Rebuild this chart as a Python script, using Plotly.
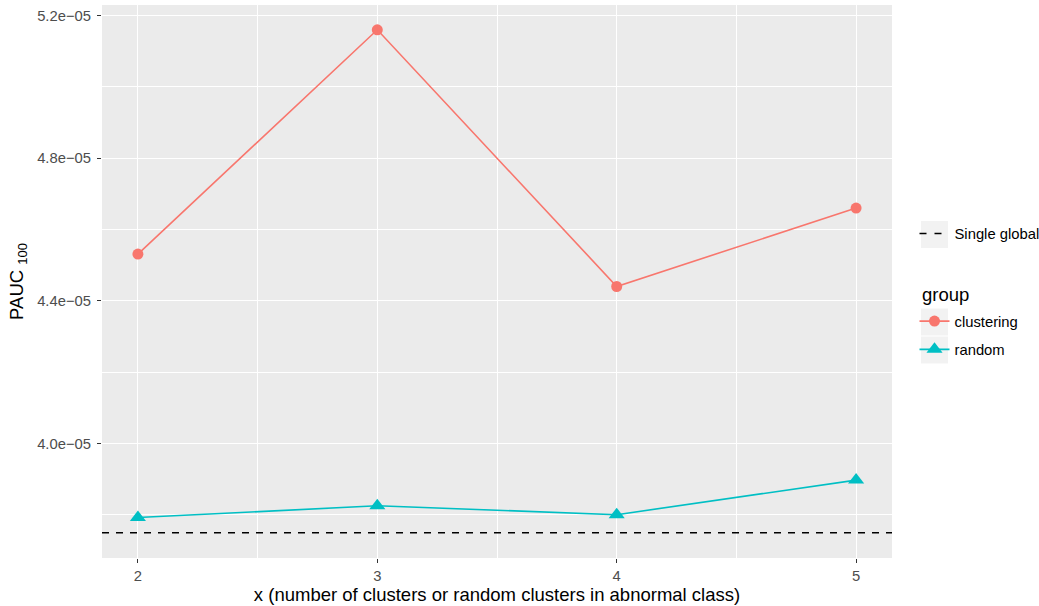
import plotly.graph_objects as go

# x: number of clusters (or random clusters) in the abnormal class
x_vals = [2, 3, 4, 5]
clustering = [4.531e-05, 5.160e-05, 4.440e-05, 4.660e-05]
random_grp = [3.792e-05, 3.825e-05, 3.800e-05, 3.897e-05]
single_global = 3.749e-05

x_ticks = [2, 3, 4, 5]
y_ticks = [4.0e-05, 4.4e-05, 4.8e-05, 5.2e-05]
y_tick_text = ["4.0e\u221205", "4.4e\u221205", "4.8e\u221205", "5.2e\u221205"]

RED = "#F8766D"
CYAN = "#00BFC4"
PANEL = "#EBEBEB"
FONT = "Liberation Sans, Arial, Helvetica, sans-serif"
TXT = 14.8
TITLE = 18.5

W, H = 1039, 606
ML, MR, MT, MB = 102, 147, 5, 48
PW, PH = W - ML - MR, H - MT - MB


def px_x(px):
    return (px - ML) / PW


def px_y(py):
    return (H - MB - py) / PH


fig = go.Figure()

fig.add_trace(go.Scatter(
    x=x_vals, y=clustering, name="clustering", mode="lines+markers",
    line=dict(color=RED, width=1.6),
    marker=dict(symbol="circle", size=11, color=RED),
    legend="legend2", legendgroup="clustering",
))
fig.add_trace(go.Scatter(
    x=x_vals, y=random_grp, name="random", mode="lines+markers",
    line=dict(color=CYAN, width=1.6),
    marker=dict(symbol="triangle-up", size=14, color=CYAN),
    legend="legend2", legendgroup="random",
))

# horizontal reference level across the full panel
fig.add_shape(type="line", xref="x domain", x0=0, x1=1, yref="y",
              y0=single_global, y1=single_global,
              line=dict(color="black", width=1.5, dash="7px,7px"))
# legend entry for the reference level
fig.add_trace(go.Scatter(
    x=[None], y=[None], name="Single global", mode="lines",
    line=dict(color="black", width=1.5, dash="7px,8px"),
    legend="legend",
))

# grey key backgrounds, ggplot-style
for yc in (234.5, 322, 350):
    fig.add_shape(type="rect", xref="paper", yref="paper",
                  x0=px_x(921), x1=px_x(948),
                  y0=px_y(yc + 13.5), y1=px_y(yc - 13.5),
                  fillcolor="#F2F2F2", line=dict(width=0), layer="below")

# legend title for the group keys
fig.add_annotation(text="group", xref="paper", yref="paper",
                   x=px_x(920), y=px_y(294), xanchor="left", yanchor="middle",
                   showarrow=False, font=dict(size=TITLE, color="black", family=FONT))

x_lo, x_hi = 1.85, 5.15
y_lo, y_hi = 3.6785e-05, 5.2295e-05

fig.update_layout(
    width=W, height=H,
    margin=dict(l=ML, r=MR, t=MT, b=MB, autoexpand=False),
    paper_bgcolor="white", plot_bgcolor=PANEL,
    font=dict(family=FONT, size=TXT, color="black"),
    showlegend=True,
    legend=dict(
        x=px_x(914.5), xanchor="left", y=px_y(217.5), yanchor="top",
        bgcolor="rgba(0,0,0,0)", font=dict(size=TXT, color="black"),
        itemwidth=30, tracegroupgap=0,
    ),
    legend2=dict(
        x=px_x(914.5), xanchor="left", y=px_y(305), yanchor="top",
        bgcolor="rgba(0,0,0,0)", font=dict(size=TXT, color="black"),
        itemwidth=30, traceorder="grouped", tracegroupgap=6,
    ),
    xaxis=dict(
        range=[x_lo, x_hi], tickvals=x_ticks, ticktext=[str(v) for v in x_ticks],
        showgrid=True, gridcolor="white", gridwidth=1.4, zeroline=False,
        ticks="outside", ticklen=4, tickcolor="#333333", tickwidth=1,
        tickfont=dict(size=TXT, color="#4D4D4D"),
        minor=dict(dtick=0.5, tick0=2, showgrid=True, gridcolor="white", gridwidth=0.7, ticks=""),
        title=dict(text="x (number of clusters or random clusters in abnormal class)",
                   font=dict(size=TITLE, color="black"), standoff=4),
        automargin=False, showline=False,
    ),
    yaxis=dict(
        range=[y_lo, y_hi], tickvals=y_ticks, ticktext=y_tick_text,
        showgrid=True, gridcolor="white", gridwidth=1.4, zeroline=False,
        ticks="outside", ticklen=4, tickcolor="#333333", tickwidth=1,
        ticklabelstandoff=3,
        tickfont=dict(size=TXT, color="#4D4D4D"),
        minor=dict(dtick=0.2e-05, tick0=4.0e-05, showgrid=True, gridcolor="white", gridwidth=0.7, ticks=""),
        title=dict(text="PAUC <sub>100</sub>", font=dict(size=TITLE, color="black"), standoff=8),
        automargin=False, showline=False,
    ),
)

fig.write_html("out.html")
